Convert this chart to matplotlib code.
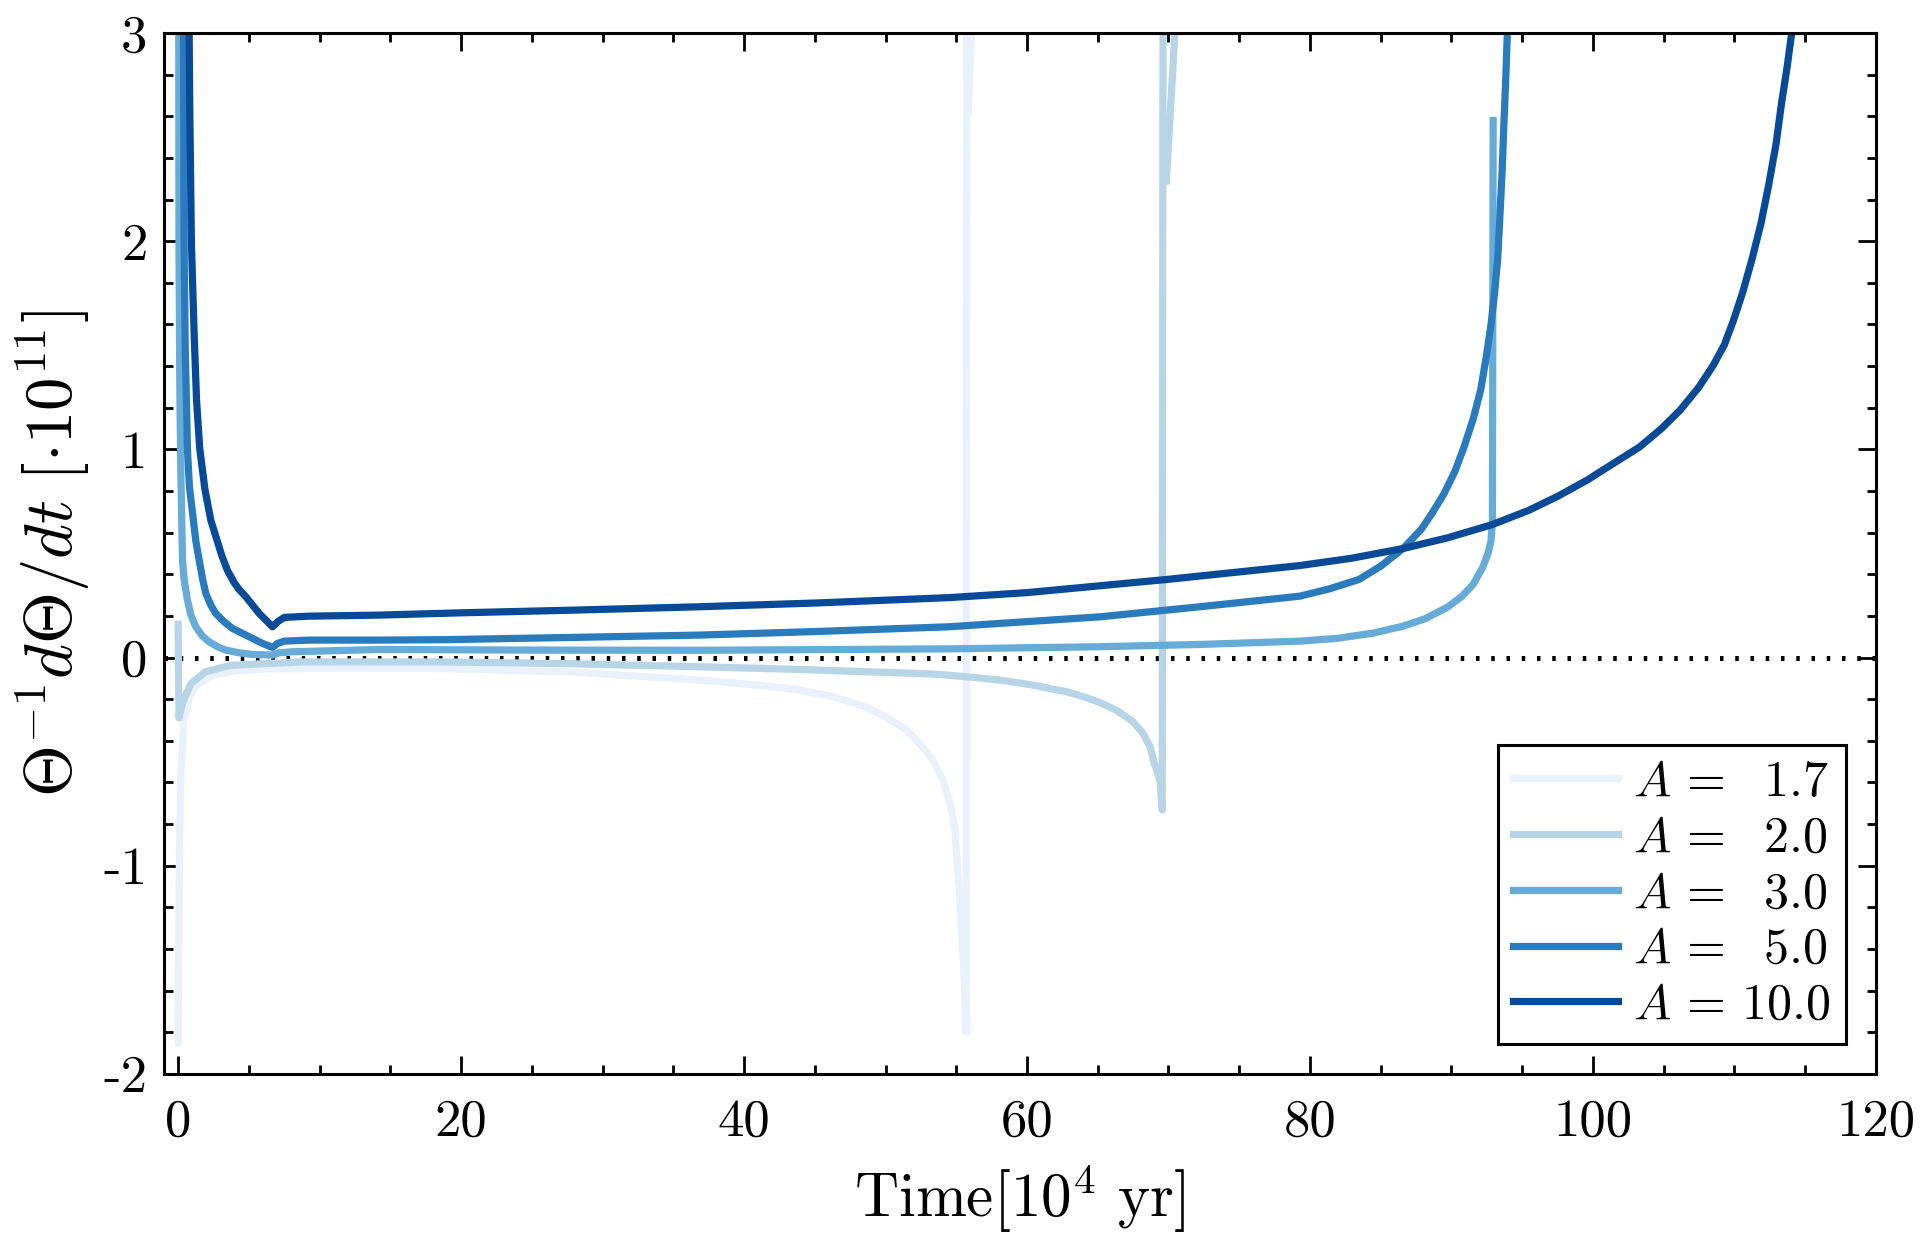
import matplotlib
matplotlib.use("Agg")
import matplotlib.pyplot as plt
from matplotlib.ticker import MultipleLocator

plt.rcParams['font.family'] = 'serif'
plt.rcParams['font.serif'] = ['cmr10']
plt.rcParams['mathtext.fontset'] = 'cm'
plt.rcParams['axes.unicode_minus'] = False

# values (time in 10^4 yr, rate in 1e-11)
t_a17 = [0.0, 0.05, 0.1, 0.2, 0.42, 0.8, 1.2, 2.4, 4.0, 6.2, 12, 19, 28, 36.85, 39.2, 41.6,
         43.9, 46.3, 48.6, 50.0, 51.5, 52.6, 53.35, 54.05, 54.5, 54.9, 55.0, 55.25, 55.45,
         55.6, 55.7, 55.75, 56.1, 55.85]
y_a17 = [-1.85, -1.3, -0.9, -0.55, -0.3, -0.19, -0.14, -0.085, -0.065, -0.055, -0.05, -0.053,
         -0.07, -0.108, -0.121, -0.137, -0.156, -0.188, -0.236, -0.284, -0.348, -0.428,
         -0.492, -0.588, -0.684, -0.813, -0.925, -1.15, -1.4, -1.6, -1.8, 3.5, 3.05, 2.62]

t_a2 = [0.0, 0.03, 0.06, 0.3, 0.9, 1.9, 3.7, 8.7, 18.8, 28, 36.85, 43.9, 48.6, 53.4, 55.7,
        58.1, 60.4, 62.8, 64.0, 65.2, 66.3, 67.5, 68.2, 68.7, 69.0, 69.4, 69.56, 69.62,
        70.5, 69.85]
y_a2 = [0.16, -0.1, -0.29, -0.22, -0.125, -0.069, -0.037, -0.021, -0.021, -0.03, -0.044,
        -0.057, -0.068, -0.079, -0.092, -0.108, -0.132, -0.164, -0.188, -0.217, -0.252,
        -0.308, -0.364, -0.428, -0.508, -0.588, -0.732, 3.5, 3.05, 2.29]

t_a3 = [0.04, 0.06, 0.12, 0.19, 0.31, 0.43, 0.66, 0.9, 1.25, 1.72, 2.19, 2.78, 3.37, 4.31,
        5.26, 6.67, 7.14, 8.1, 14.2, 25, 36.8, 54.5, 65, 72.2, 79.28, 81.89, 84.5, 86.59,
        88.15, 89.72, 90.76, 91.55, 92.2, 92.59, 92.8, 92.9, 92.95]
y_a3 = [3.3, 2.0, 1.3, 0.9, 0.468, 0.372, 0.276, 0.204, 0.148, 0.103, 0.076, 0.052, 0.036,
        0.023, 0.015, 0.012, 0.023, 0.028, 0.039, 0.036, 0.035, 0.042, 0.052, 0.063, 0.079,
        0.092, 0.118, 0.151, 0.187, 0.242, 0.295, 0.353, 0.432, 0.501, 0.56, 0.658, 2.58]

t_a5 = [0.36, 0.38, 0.42, 0.5, 0.66, 0.8, 1.01, 1.25, 1.49, 1.72, 1.96, 2.31, 2.66, 3.25,
        3.84, 4.55, 5.26, 5.97, 6.67, 7.03, 7.5, 9.26, 14.2, 18.8, 28, 36.8, 45, 54.5, 65.2,
        72.2, 79.28, 81.37, 83.46, 85.02, 86.59, 87.89, 88.67, 89.46, 90.24, 90.89, 91.55,
        92.07, 92.46, 92.8, 93.06, 93.27, 93.42, 93.58, 93.71, 93.84, 93.95, 94.0]
y_a5 = [3.3, 3.0, 2.0, 1.5, 1.0, 0.82, 0.70, 0.56, 0.468, 0.38, 0.308, 0.252, 0.212, 0.172,
        0.140, 0.116, 0.092, 0.068, 0.049, 0.068, 0.079, 0.084, 0.084, 0.086, 0.097, 0.108,
        0.125, 0.148, 0.196, 0.244, 0.295, 0.33, 0.375, 0.44, 0.524, 0.618, 0.697, 0.785,
        0.893, 1.011, 1.149, 1.286, 1.443, 1.600, 1.757, 1.914, 2.111, 2.327, 2.562, 2.778,
        2.994, 3.2]

t_a10 = [0.76, 0.78, 0.825, 0.94, 1.13, 1.30, 1.53, 1.89, 2.31, 3.09, 3.48, 3.96, 4.31, 4.79,
         5.26, 5.73, 6.2, 6.67, 7.03, 7.5, 9.26, 14.2, 20, 28, 36.8, 45, 54.5, 60, 70, 79.28,
         82.93, 86.59, 89.72, 92.85, 95.46, 97.55, 99.63, 101.46, 103.29, 104.85, 106.16,
         107.46, 108.51, 109.29, 109.94, 110.6, 111.25, 111.9, 112.42, 112.94, 113.33,
         113.73, 114.04, 114.2]
y_a10 = [3.3, 3.0, 2.633, 1.99, 1.561, 1.239, 1.003, 0.81, 0.660, 0.489, 0.420, 0.360, 0.327,
         0.292, 0.252, 0.212, 0.180, 0.148, 0.172, 0.193, 0.199, 0.204, 0.215, 0.228, 0.244,
         0.262, 0.288, 0.312, 0.376, 0.442, 0.477, 0.524, 0.575, 0.638, 0.707, 0.776, 0.854,
         0.933, 1.011, 1.100, 1.188, 1.296, 1.404, 1.502, 1.620, 1.757, 1.914, 2.091, 2.268,
         2.464, 2.661, 2.837, 2.994, 3.2]

labels = [r'$A \,=\, \enspace 1.7$', r'$A \,=\, \enspace 2.0$', r'$A \,=\, \enspace 3.0$',
          r'$A \,=\, \enspace 5.0$', r'$A \,=\, 10.0$']
colors = ['#e9f1fd', '#b8d5e8', '#67acd8', '#2a7bbd', '#084a98']

x_ticks = [0, 20, 40, 60, 80, 100, 120]
y_ticks = [-2, -1, 0, 1, 2, 3]
y_tick_labels = ['-2', '-1', '0', '1', '2', '3']

fig = plt.figure(figsize=(9.6, 6.205), dpi=200)
ax = fig.add_axes([0.0854, 0.1346, 0.977 - 0.0854, 0.9734 - 0.1346])

series = [(t_a17, y_a17), (t_a2, y_a2), (t_a3, y_a3), (t_a5, y_a5), (t_a10, y_a10)]
for (t, y), lab, col in zip(series, labels, colors):
    ax.plot(t, y, color=col, lw=2.6, label=lab, solid_joinstyle='round')

ax.axhline(0, color='black', lw=1.8, linestyle=(0, (0.7, 2.35)), zorder=0)

ax.set_xlim(-1, 120)
ax.set_ylim(-2, 3)
ax.set_xticks(x_ticks)
ax.set_yticks(y_ticks)
ax.set_yticklabels(y_tick_labels)
ax.xaxis.set_minor_locator(MultipleLocator(5))
ax.yaxis.set_minor_locator(MultipleLocator(0.2))
ax.tick_params(which='both', direction='in', top=True, right=True, width=1.0, labelsize=19)
ax.tick_params(which='major', length=6.4)
ax.tick_params(which='minor', length=3.2)
ax.tick_params(axis='x', which='major', pad=9)
ax.tick_params(axis='y', which='major', pad=6)
for s in ax.spines.values():
    s.set_linewidth(1.1)

ax.set_xlabel(r'$\mathrm{Time}[10^4\ \mathrm{yr}]$', fontsize=22, labelpad=6)
ax.set_ylabel(r'$\Theta^{-1} d\Theta/dt\ [\cdot 10^{11}]$', fontsize=24, labelpad=4)

leg = ax.legend(loc='lower right', fontsize=18, fancybox=False, edgecolor='black',
                framealpha=1, handlelength=2.1, borderaxespad=0.6, labelspacing=0.2,
                handletextpad=0.3, borderpad=0.3)
leg.get_frame().set_linewidth(1.1)

fig.savefig('out.png', dpi=200)
